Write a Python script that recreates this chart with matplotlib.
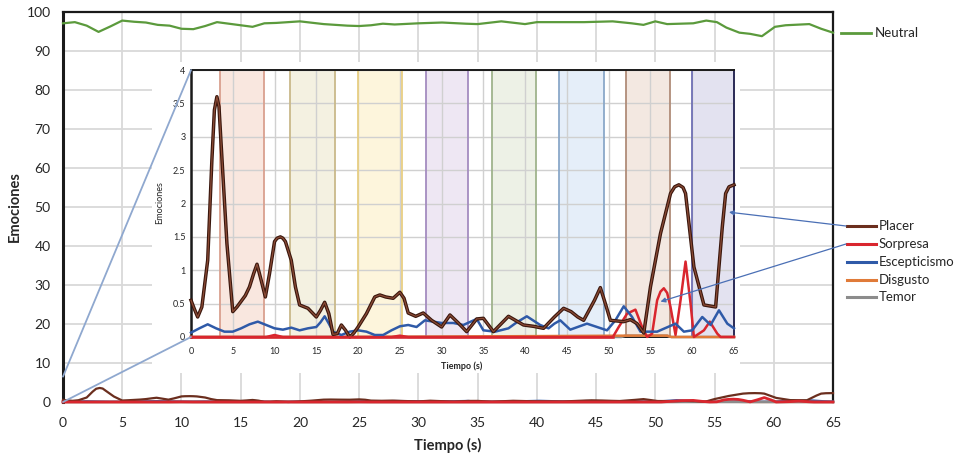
import matplotlib
matplotlib.use('Agg')
import matplotlib.pyplot as plt
from matplotlib.patches import ConnectionPatch
from matplotlib.lines import Line2D
import matplotlib.patheffects as pe

plt.rcParams['font.family'] = ['Lato', 'DejaVu Sans']

# ---------------- data ----------------
neutral_t = [0, 1, 2, 3, 4, 5, 6, 7, 8, 9, 10, 11, 12, 13, 14, 15, 16, 17, 18, 20, 22, 24, 25, 26, 27, 28,
             30, 32, 34, 35, 37, 39, 40, 42, 44, 46.4, 48, 49, 50, 51, 53.2, 54.3, 55.2, 56, 57.1, 58, 59,
             60.1, 61, 63, 64, 65]
neutral_v = [97.1, 97.4, 96.5, 94.9, 96.3, 97.8, 97.5, 97.3, 96.7, 96.5, 95.7, 95.6, 96.4, 97.4, 97.0, 96.6,
             96.2, 97.1, 97.2, 97.6, 96.9, 96.5, 96.4, 96.6, 97.0, 96.8, 97.1, 97.3, 97.0, 96.9, 97.6, 96.9,
             97.4, 97.4, 97.4, 97.6, 97.1, 96.7, 97.6, 96.9, 97.1, 97.8, 97.4, 96.0, 94.7, 94.4, 93.8, 96.2,
             96.6, 96.9, 95.7, 94.7]

placer_t = [0, 0.4, 0.8, 1.3, 2.0, 2.5, 2.8, 3.1, 3.35, 3.6, 4.3, 5.0, 5.5, 6.5, 7.0, 7.5, 7.9, 8.4, 8.9,
            9.4, 10.0, 10.3, 10.7, 11.0, 11.3, 12.0, 12.5, 13.0, 14.0, 15.0, 15.5, 16.0, 16.5, 17.0, 17.5,
            18.0, 18.5, 19.0, 19.5, 20.0, 21.0, 22.0, 22.6, 23.3, 24.2, 25.0, 25.5, 26.0, 26.9, 27.8, 28.8,
            30.0, 31.0, 32.0, 33.0, 34.2, 35.0, 36.2, 38.0, 39.8, 41.0, 42.2, 43.5, 44.6, 45.5, 46.3, 47.0,
            48.3, 49.0, 49.6, 50.2, 51.0, 51.8, 52.6, 53.4, 54.2, 55.0, 56.2, 57.4, 57.9, 58.4, 58.9, 59.2,
            60.2, 61.4, 62.8, 63.6, 64.0, 64.4, 65.0]
placer_v = [0.55, 0.42, 0.30, 0.45, 1.15, 2.65, 3.40, 3.60, 3.45, 2.90, 1.40, 0.38, 0.45, 0.62, 0.75, 0.95,
            1.09, 0.85, 0.60, 0.95, 1.43, 1.48, 1.50, 1.48, 1.43, 1.15, 0.75, 0.48, 0.43, 0.30, 0.40, 0.52,
            0.35, 0.04, 0.05, 0.18, 0.10, 0.00, 0.06, 0.15, 0.35, 0.60, 0.63, 0.60, 0.58, 0.67, 0.58, 0.36,
            0.31, 0.36, 0.25, 0.15, 0.33, 0.21, 0.08, 0.27, 0.28, 0.08, 0.31, 0.18, 0.16, 0.13, 0.30, 0.43,
            0.38, 0.30, 0.25, 0.55, 0.74, 0.50, 0.25, 0.24, 0.23, 0.26, 0.20, 0.06, 0.75, 1.55, 2.15, 2.25,
            2.28, 2.24, 2.15, 1.05, 0.48, 0.45, 1.65, 2.15, 2.25, 2.28]

escep_t = [0, 1, 2, 3, 4, 5, 6, 7, 8, 9, 10, 11, 12, 13, 14, 15, 15.5, 16, 16.5, 17, 18, 19, 20, 21, 22, 23,
           24, 25, 26, 27, 28, 29, 30, 31.4, 32.6, 34.2, 35, 36.4, 38, 39, 40.2, 41.8, 42.8, 43.5, 44.2, 45.4,
           47.4, 48.6, 49.8, 50.8, 51.8, 52.8, 53.8, 55.8, 58, 59, 60, 61.2, 62.2, 63.2, 64.2, 65]
escep_v = [0.065, 0.13, 0.19, 0.13, 0.08, 0.08, 0.13, 0.19, 0.23, 0.18, 0.13, 0.11, 0.14, 0.10, 0.13, 0.15,
           0.22, 0.31, 0.20, 0.08, 0.03, 0.08, 0.10, 0.08, 0.03, 0.03, 0.10, 0.16, 0.18, 0.15, 0.25, 0.23,
           0.21, 0.21, 0.18, 0.27, 0.10, 0.08, 0.13, 0.22, 0.31, 0.18, 0.13, 0.20, 0.25, 0.11, 0.20, 0.15,
           0.10, 0.25, 0.46, 0.30, 0.08, 0.08, 0.20, 0.08, 0.10, 0.30, 0.18, 0.40, 0.20, 0.13]

sorpresa_t = [0, 9, 10, 11, 24, 25, 26, 50.5, 51.2, 52.2, 53.2, 54.0, 54.6, 55.2, 55.8, 56.2, 56.6, 57.0,
              57.4, 58.0, 58.6, 59.2, 59.8, 60.2, 61.4, 62.1, 63.0, 63.4, 65]
sorpresa_v = [0, 0, 0.03, 0, 0, 0.02, 0, 0, 0.15, 0.35, 0.41, 0.15, 0.0, 0.05, 0.55, 0.68, 0.73, 0.66,
              0.45, 0.03, 0.55, 1.13, 0.50, 0.0, 0.10, 0.23, 0.05, 0.0, 0]

disgusto_t = [0, 18.5, 19, 19.5, 52, 57, 57.5, 65]
disgusto_v = [0, 0, 0.03, 0, 0.02, 0.02, 0, 0]

temor_t = [0, 51.5, 52, 57, 57.5, 65]
temor_v = [0, 0, 0.02, 0.02, 0, 0]

series_names = ['Placer', 'Sorpresa', 'Escepticismo', 'Disgusto', 'Temor']
series_colors = ['#6b2e1e', '#d9262e', '#2f5aa8', '#e07b39', '#8c8c8c']

bands = [(3.5, 8.7), (11.8, 17.2), (20.0, 25.2), (28.1, 33.2),
         (36.0, 41.3), (44.1, 49.4), (52.1, 57.3), (60.0, 65.0)]
band_fill = ['#f9e7df', '#f4f1e1', '#fdf5dc', '#eee7f3', '#edf1e6', '#e5eef9', '#f3e8e1', '#e3e2f0']
band_edge = ['#d9a08f', '#c9b98a', '#e8cf83', '#a48cc0', '#9fb38c', '#8aa8c9', '#b08c78', '#6f70b5']

main_xticks = list(range(0, 66, 5))
main_yticks = list(range(0, 101, 10))
inset_yticks = [0, 0.5, 1, 1.5, 2, 2.5, 3, 3.5, 4]
inset_ylabels = ['0', '0.5', '1', '1.5', '2', '2.5', '3', '3.5', '4']

# ---------------- figure ----------------
W, H = 961, 457
fig = plt.figure(figsize=(W / 100, H / 100), dpi=100)


def fx(px):
    return px / W


def fy(py):
    return 1 - py / H


txt = '#262626'
grid_c = '#d9d9d9'

# main axes
ax = fig.add_axes([fx(63), fy(402), fx(833) - fx(63), fy(12) - fy(402)])
ax.set_zorder(0)
ax.set_xlim(0, 65)
ax.set_ylim(0, 100)
ax.set_xticks(main_xticks)
ax.set_yticks(main_yticks)
ax.tick_params(length=0, labelsize=10, colors=txt)
ax.tick_params(axis='x', pad=11)
ax.tick_params(axis='y', pad=9)
ax.grid(True, color=grid_c, lw=1.3)
ax.set_axisbelow(True)
for s in ax.spines.values():
    s.set_color('#1a1a1a')
    s.set_linewidth(1.6)
ax.spines['left'].set_linewidth(2.2)

ax.plot(neutral_t, neutral_v, color='#5b9a3c', lw=1.6, clip_on=False, zorder=3)
main_data = [(placer_t, placer_v), (sorpresa_t, sorpresa_v), (escep_t, escep_v),
             (disgusto_t, disgusto_v), (temor_t, temor_v)]
order = [2, 3, 4, 0, 1]
for i in order:
    t, v = main_data[i]
    ax.plot(t, v, color=series_colors[i], lw=1.6 if i != 1 else 2.0, clip_on=False, zorder=3)

fig.text(fx(448), fy(445), 'Tiempo (s)', ha='center', va='center', fontsize=10.5,
         fontweight='bold', color=txt)
fig.text(fx(15), fy(207), 'Emociones', ha='center', va='center', rotation=90, fontsize=10.5,
         fontweight='bold', color=txt)

# white backdrop behind the inset
bg = fig.add_axes([fx(152), fy(373), fx(740) - fx(152), fy(62) - fy(373)])
bg.set_zorder(1)
bg.set_xticks([])
bg.set_yticks([])
for s in bg.spines.values():
    s.set_visible(False)
bg.patch.set_facecolor('white')

# inset axes
axin = fig.add_axes([fx(191), fy(337), fx(734) - fx(191), fy(70) - fy(337)])
axin.set_zorder(2)
axin.set_xlim(0, 65)
axin.set_ylim(0, 4)
axin.set_xticks(main_xticks)
axin.set_yticks(inset_yticks)
axin.set_yticklabels(inset_ylabels)
axin.tick_params(length=0, labelsize=6.5, colors=txt)
axin.tick_params(axis='x', pad=7)
axin.tick_params(axis='y', pad=4)
axin.grid(True, color='#d0d0d0', lw=1.0)
axin.set_axisbelow(True)
for s in axin.spines.values():
    s.set_color('#1a1a1a')
    s.set_linewidth(1.4)
axin.spines['left'].set_linewidth(1.8)
axin.spines['right'].set_color('#2a2a55')

for (a, b), fc, ec in zip(bands, band_fill, band_edge):
    axin.axvspan(a, b, facecolor=fc, edgecolor='none', zorder=0.2)
    axin.axvline(a, color=ec, lw=1.3, zorder=0.6)
    if b < 65:
        axin.axvline(b, color=ec, lw=1.3, zorder=0.6)

for i in [4, 3, 1, 2]:
    t, v = main_data[i]
    axin.plot(t, v, color=series_colors[i], lw=1.8, zorder=3, clip_on=False)
t, v = main_data[0]
axin.plot(t, v, color='#8a4a35', lw=0.9, zorder=4, clip_on=False,
          path_effects=[pe.Stroke(linewidth=2.5, foreground='#3a170d'), pe.Normal()])
t, v = main_data[1]
flat = [x for x in t if x <= 50.5]
axin.plot(flat, [0] * len(flat), color=series_colors[1], lw=1.8, zorder=4, clip_on=False)

fig.text(fx(462), fy(366), 'Tiempo (s)', ha='center', va='center', fontsize=6.5,
         fontweight='bold', color=txt)
fig.text(fx(160), fy(203), 'Emociones', ha='center', va='center', rotation=90, fontsize=6.5,
         color=txt)

# zoom connector lines
zc = '#8fa8cf'
for (ya, yb) in [(6.5, 4), (0, 0)]:
    cp = ConnectionPatch(xyA=(0, ya), coordsA=ax.transData, xyB=(0, yb), coordsB=axin.transData,
                         color=zc, lw=1.3, zorder=10)
    fig.add_artist(cp)

# Neutral label
fig.add_artist(Line2D([fx(841), fx(871)], [fy(33), fy(33)], transform=fig.transFigure,
                      color='#5b9a3c', lw=2))
fig.text(fx(875), fy(33), 'Neutral', ha='left', va='center', fontsize=9.5, color=txt)

# legend
leg_y = [226, 244, 262, 280, 297]
for name, c, y in zip(series_names, series_colors, leg_y):
    fig.add_artist(Line2D([fx(847), fx(876)], [fy(y), fy(y)], transform=fig.transFigure,
                          color=c, lw=2.2))
    fig.text(fx(879), fy(y), name, ha='left', va='center', fontsize=9.5, color=txt)

# arrows from legend to inset curves
ac = '#4a6fb5'
for (ly, target) in [(226, (64.4, 1.87)), (244, (56.2, 0.53))]:
    ar = ConnectionPatch(xyA=(fx(846), fy(ly)), coordsA='figure fraction', xyB=target,
                         coordsB=axin.transData, arrowstyle='-|>', mutation_scale=7,
                         color=ac, lw=0.9, zorder=11)
    fig.add_artist(ar)

fig.savefig('out.png', dpi=100)
